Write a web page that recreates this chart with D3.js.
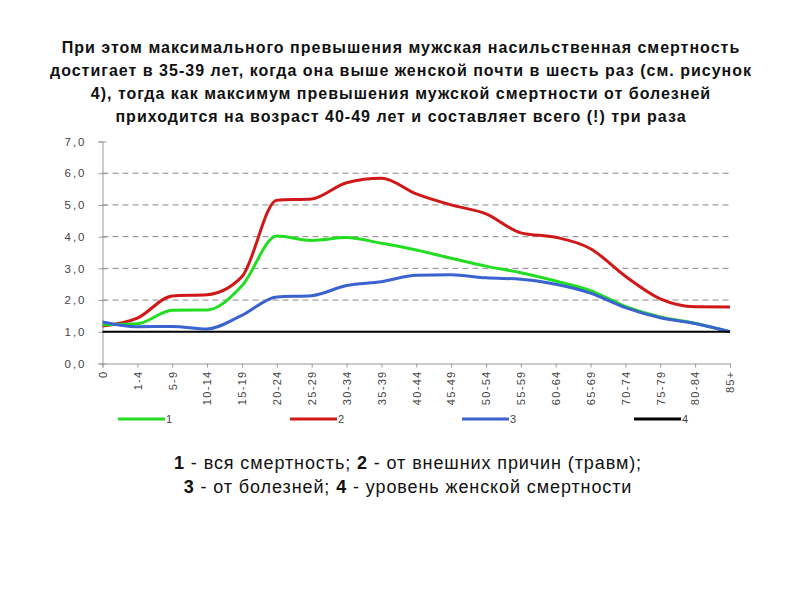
<!DOCTYPE html>
<html><head><meta charset="utf-8">
<script src="https://cdn.jsdelivr.net/npm/d3@7"></script>
<style>body{margin:0;background:#fff}svg{display:block}</style>
</head><body>
<svg id="c" width="800" height="600"></svg>
<script>
const categories = ["0","1-4","5-9","10-14","15-19","20-24","25-29","30-34","35-39","40-44","45-49","50-54","55-59","60-64","65-69","70-74","75-79","80-84","85+"];
const series1 = [1.22,1.25,1.68,1.69,2.45,4.02,3.88,3.97,3.79,3.58,3.32,3.07,2.86,2.6,2.3,1.8,1.47,1.27,1.0];
const series2 = [1.18,1.43,2.13,2.17,2.74,5.15,5.19,5.7,5.84,5.35,5.0,4.72,4.12,3.98,3.62,2.75,2.04,1.79,1.78];
const series3 = [1.31,1.16,1.17,1.09,1.52,2.1,2.14,2.46,2.58,2.78,2.8,2.7,2.66,2.5,2.22,1.76,1.44,1.26,1.0];
const series4 = [1,1,1,1,1,1,1,1,1,1,1,1,1,1,1,1,1,1,1];
const legendLabels = ["1","2","3","4"];
const yTicks = [0,1,2,3,4,5,6,7];
const titleLines = ["При этом максимального превышения мужская насильственная смертность","достигает в 35-39 лет, когда она выше женской почти в шесть раз (см. рисунок","4), тогда как максимум превышения мужской смертности от болезней","приходится на возраст 40-49 лет и составляет всего (!) три раза"];

const svg = d3.select("#c");
const x = d3.scalePoint().domain(categories).range([102.5, 730]);
const y = d3.scaleLinear().domain([0,7]).range([363.5, 141.5]);
const fmt = d => d.toFixed(1).replace(".", ",");
const sans = "'Liberation Sans',Arial,sans-serif";

// title
svg.append("g").selectAll("text").data(titleLines).join("text")
  .attr("x", 401).attr("y", (d,i)=>52.5 + i*23)
  .attr("text-anchor","middle")
  .style("font-family",sans)
  .style("font-weight","bold").style("font-size","16px").style("letter-spacing","1px").style("fill","#111")
  .text(d=>d);

// gridlines
svg.append("g").selectAll("line").data(yTicks.filter(t=>t>=2 && t<=6)).join("line")
  .attr("x1", x.range()[0]).attr("x2", x.range()[1])
  .attr("y1", d=>y(d)).attr("y2", d=>y(d))
  .attr("stroke","#888").attr("stroke-width",1).attr("stroke-dasharray","6,4");

// axes
const yAxis = svg.append("g").attr("transform",`translate(${x.range()[0]},0)`)
  .call(d3.axisLeft(y).tickValues(yTicks).tickFormat(fmt).tickSize(4).tickPadding(12));
const xAxis = svg.append("g").attr("transform",`translate(0,${y(0)})`)
  .call(d3.axisBottom(x).tickSize(4).tickPadding(4));
[yAxis,xAxis].forEach(a=>{
  a.select(".domain").attr("stroke","#999");
  a.selectAll(".tick line").attr("stroke","#999");
  a.selectAll("text").style("font-family",sans).style("fill","#444");
});
yAxis.selectAll(".tick line").attr("x1",4);
yAxis.selectAll("text").style("font-size","11.5px").style("letter-spacing","2px");
xAxis.selectAll("text").style("font-size","11px").style("letter-spacing","1.3px")
  .attr("transform","rotate(-90)").attr("text-anchor","end")
  .attr("x",-7).attr("y",0).attr("dy","0.35em");

// lines
const line = d3.line().x((d,i)=>x(categories[i])).y(d=>y(d)).curve(d3.curveMonotoneX);
const seriesDefs = [
  {v:series2, c:"#d01818", w:3},
  {v:series1, c:"#22dd22", w:3},
  {v:series3, c:"#3a63d0", w:3},
  {v:series4, c:"#000000", w:2}
];
svg.append("g").selectAll("path").data(seriesDefs).join("path")
  .attr("d", d=>line(d.v)).attr("fill","none")
  .attr("stroke", d=>d.c).attr("stroke-width", d=>d.w)
  .attr("stroke-linejoin","round");

// legend
const legendDefs = [
  {c:"#22dd22", x:118},{c:"#d01818", x:290},{c:"#3a63d0", x:462},{c:"#000000", x:634}
];
const lg = svg.append("g").selectAll("g").data(legendDefs).join("g")
  .attr("transform", d=>`translate(${d.x},419)`);
lg.append("line").attr("x1",0).attr("x2",47).attr("y1",0).attr("y2",0)
  .attr("stroke",d=>d.c).attr("stroke-width",3);
lg.append("text").attr("x",48).attr("y",4)
  .style("font-family",sans).style("font-size","11px").style("fill","#444")
  .text((d,i)=>legendLabels[i]);

// caption
const cap = svg.append("g").style("font-family",sans).style("font-size","18px").style("letter-spacing","0.9px").style("fill","#111");
const capLines = [
  [["1",true],[" - вся смертность; ",false],["2",true],[" - от внешних причин (травм);",false]],
  [["3",true],[" - от болезней; ",false],["4",true],[" - уровень женской смертности",false]]
];
capLines.forEach((parts,i)=>{
  const t = cap.append("text").attr("x",408).attr("y",469 + i*24).attr("text-anchor","middle");
  parts.forEach(p=>t.append("tspan").style("font-weight",p[1]?"bold":"normal").text(p[0]));
});
</script>
</body></html>
